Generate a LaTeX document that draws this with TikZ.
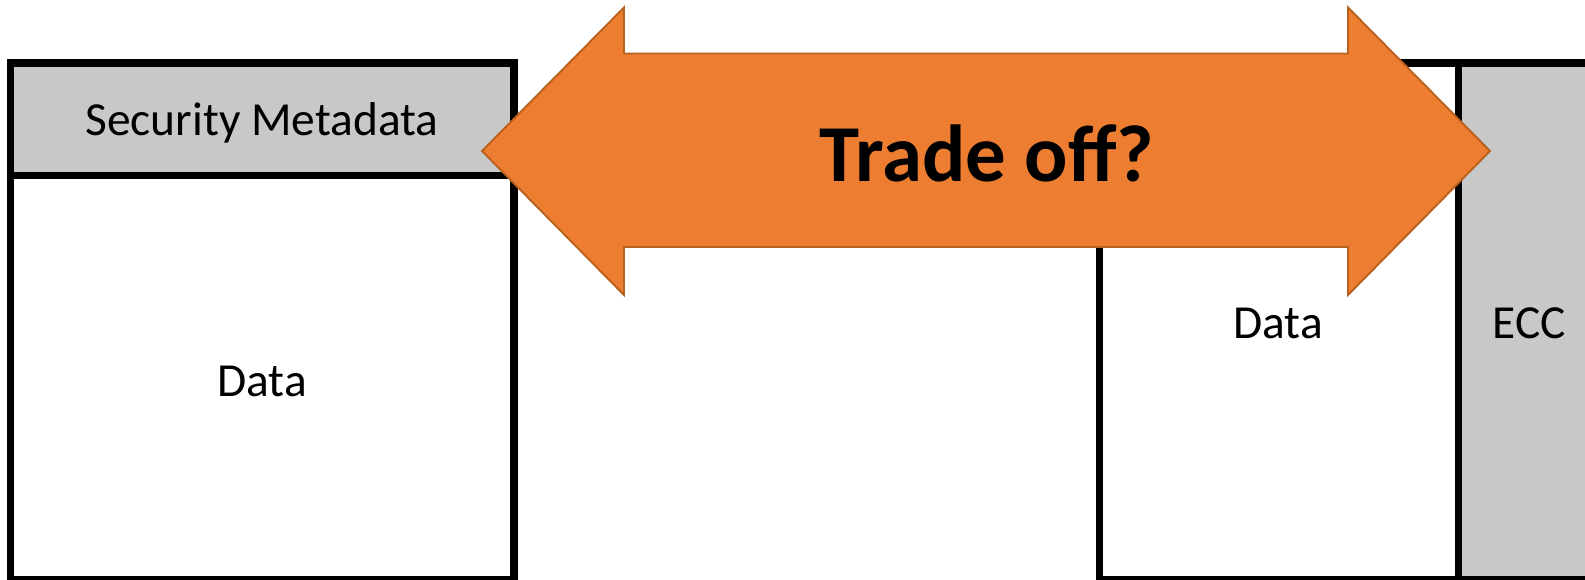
\documentclass[tikz,border=0pt]{standalone}
\usepackage{fontspec}
\setmainfont{Carlito}
\definecolor{metagray}{HTML}{C8C8C8}
\definecolor{tradeorange}{HTML}{ED7D31}
\definecolor{tradeedge}{HTML}{B9621F}
\begin{document}
\begin{tikzpicture}[x=0.02cm,y=-0.02cm,
    box/.style={draw=black,line width=4pt},
    lbl/.style={anchor=base,font=\fontsize{27}{30}\selectfont},
    bigarrow/.style={fill=tradeorange,draw=tradeedge,line width=1.1pt,line join=miter}]

\useasboundingbox (0,0) rectangle (1585,580);

% ===== Left block: metadata + data =====
\draw[box,fill=metagray] (10.5,63) rectangle (514,175.5);
\draw[box,fill=white] (10.5,175.5) rectangle (514,579.5);

\node[lbl] (secmeta) at (262,136) {Security Metadata};
\node[lbl] (leftdata) at (262,397) {Data};

% ===== Right block: data + ECC =====
\draw[box,fill=white] (1099,63) rectangle (1458,579.5);
\draw[box,fill=metagray] (1458,63) rectangle (1620,579.5);

\node[lbl] (rightdata) at (1278,339) {Data};
\node[lbl] (ecc) at (1529,339) {ECC};

% ===== Double arrow =====
\draw[bigarrow] (482,151) -- (624,7.5) -- (624,53.5) -- (1348,53.5) -- (1348,7.5)
    -- (1490,151) -- (1348,295) -- (1348,247) -- (624,247) -- (624,295) -- cycle;

\node[anchor=base,font=\fontsize{46}{50}\selectfont\bfseries] (tradeoff) at (987,182) {Trade off?};

\end{tikzpicture}
\end{document}
